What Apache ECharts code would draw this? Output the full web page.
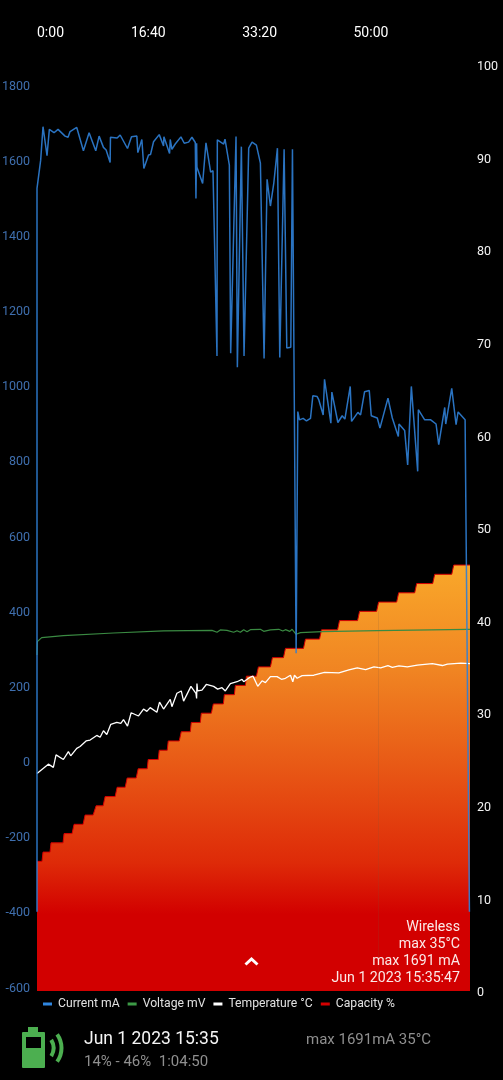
<!DOCTYPE html>
<html>
<head>
<meta charset="utf-8">
<title>Battery log</title>
<style>
	html, body { margin: 0; padding: 0; background: #000; }
	#chart { width: 503px; height: 1080px; }
</style>
</head>
<body>
<div id="chart"></div>
<script src="https://cdn.jsdelivr.net/npm/echarts@6/dist/echarts.min.js"></script>
<script>
// seconds since start, mA
var currentTime = [0,0,33,54,90,111,153,189,252,279,297,357,417,468,528,558,597,621,657,660,720,747,813,849,897,906,942,960,1002,1020,1047,1098,1137,1140,1191,1197,1212,1242,1293,1323,1362,1392,1422,1428,1434,1437,1488,1518,1560,1581,1617,1620,1677,1689,1728,1740,1788,1800,1836,1860,1902,1932,1971,2007,2040,2067,2097,2127,2160,2181,2220,2244,2280,2295,2328,2343,2358,2391,2421,2457,2478,2517,2532,2571,2583,2640,2649,2703,2742,2766,2814,2826,2883,2907,2943,2985,3003,3057,3081,3153,3192,3246,3252,3303,3330,3363,3420,3426,3483,3537,3585,3609,3663,3672,3726,3765,3783,3846,3885];
var currentValue = [-400,1525,1600,1689,1612,1682,1673,1682,1664,1661,1676,1687,1625,1673,1625,1664,1634,1627,1594,1661,1659,1667,1631,1662,1664,1620,1655,1578,1614,1615,1649,1668,1638,1662,1618,1655,1629,1643,1662,1645,1648,1661,1647,1498,1645,1581,1538,1646,1568,1572,1079,1654,1643,1656,1587,1086,1663,1049,1636,1079,1632,1648,1640,1592,1072,1549,1478,1538,1632,1075,1629,1100,1102,1629,288,931,909,913,906,913,973,971,962,922,1017,900,983,902,920,911,998,905,929,922,984,987,920,914,887,967,914,865,898,881,789,998,772,936,909,909,898,843,942,898,993,896,930,909,-400];

// seconds since start, mV
var voltageTime = [0,3,42,237,687,1137,1572,1617,1647,1707,1767,1797,1827,1857,1887,1917,2007,2037,2097,2172,2208,2232,2271,2292,2328,2367,2562,3057,3867,3890];
var voltageValue = [3629,3773,3816,3837,3866,3888,3895,3874,3899,3895,3874,3891,3874,3902,3880,3902,3906,3884,3899,3906,3888,3902,3884,3906,3852,3870,3880,3891,3906,3906];

// seconds since start, deg C
var tempTime = [0,102,147,171,237,282,303,357,387,441,477,537,567,597,627,663,717,753,777,813,846,912,957,987,1017,1077,1101,1137,1197,1212,1257,1296,1317,1383,1428,1434,1437,1443,1482,1521,1587,1623,1662,1692,1737,1797,1842,1857,1917,1941,1983,2022,2052,2097,2157,2196,2232,2277,2298,2313,2337,2382,2487,2583,2712,2802,2877,2952,3027,3087,3153,3192,3252,3327,3417,3552,3642,3687,3807,3890];
var tempValue = [23.5,24.5,24.15,25.5,25.0,25.85,25.4,26.2,26.4,27.0,27.1,27.6,27.4,28.1,27.7,28.8,29.0,28.9,29.3,28.6,30.05,29.7,30.45,30.2,30.6,30.1,31.2,30.45,31.5,30.7,32.15,32.4,31.3,32.9,32.15,31.6,33.2,32.4,32.5,33.1,32.9,32.6,32.75,32.4,33.2,33.4,33.66,33.4,33.9,34.0,32.9,33.5,33.3,33.95,33.95,33.66,33.77,34.1,33.4,34.1,33.77,34.05,34.1,34.4,34.35,34.67,34.9,34.7,35.0,34.9,35.13,34.96,35.1,35.0,35.2,35.35,35.15,35.3,35.4,35.35];

// seconds since start, percent (start and end of each step)
var capacityTime = [0,45,54,117,126,234,243,315,333,414,432,504,531,594,612,702,720,792,810,891,909,990,999,1089,1098,1170,1179,1278,1296,1377,1386,1467,1476,1566,1584,1674,1683,1773,1782,1872,1881,1971,1989,2097,2115,2214,2232,2394,2412,2538,2556,2700,2718,2880,2898,3051,3069,3231,3249,3393,3411,3555,3573,3726,3744,3890];
var capacityValue = [14,14,15,15,16,16,17,17,18,18,19,19,20,20,21,21,22,22,23,23,24,24,25,25,26,26,27,27,28,28,29,29,30,30,31,31,32,32,33,33,34,34,35,35,36,36,37,37,38,38,39,39,40,40,41,41,42,42,43,43,44,44,45,45,46,46];

var rightTicks = 10;
var leftTicks = 200;
var timeTicks = 1000;
var capacityMarkTime = 3069;
var capacityMarkTop = 41;

function pairs(xs, ys) {
	return xs.map(function (x, i) { return [x, ys[i]]; });
}

function mmss(v) {
	var s = v % 60;
	return Math.floor(v / 60) + ':' + (s < 10 ? '0' + s : s);
}

var font = 'Roboto';

function label(text, x, y, size, color, align) {
	return {
		type: 'text',
		x: x,
		y: y,
		z: 100,
		silent: true,
		style: {
			text: text,
			fill: color,
			font: size + 'px ' + font,
			textAlign: align || 'left',
			textVerticalAlign: 'middle'
		}
	};
}

var myChart = echarts.init(document.getElementById('chart'), null, { renderer: 'canvas' });

var option = {
	backgroundColor: '#000',
	animation: false,
	textStyle: { fontFamily: font },
	grid: [
		{ left: 37, right: 33, top: 65, height: 926, outerBoundsMode: 'none' },
		{ left: 37, right: 33, top: 85, height: 902, outerBoundsMode: 'none' }
	],
	legend: {
		left: 38,
		top: 993,
		itemWidth: 9,
		itemHeight: 3,
		itemGap: 8,
		icon: 'rect',
		textStyle: { color: '#e0e0e0', fontSize: 12.2, fontFamily: font, padding: [0, 0, 0, 1] },
		data: ['Current mA', 'Voltage mV', 'Temperature °C', 'Capacity %']
	},
	xAxis: [
		{
			type: 'value',
			gridIndex: 0,
			position: 'top',
			min: 0,
			max: 3890,
			interval: timeTicks,
			axisLine: { show: false },
			axisTick: { show: false },
			splitLine: { show: false },
			axisLabel: {
				color: '#fff',
				fontSize: 14,
				margin: 25,
				showMaxLabel: false,
				alignMinLabel: 'left',
				formatter: mmss
			}
		},
		{ type: 'value', gridIndex: 1, min: 0, max: 3890, show: false }
	],
	yAxis: [
		{
			type: 'value',
			gridIndex: 0,
			position: 'right',
			min: 0,
			max: 100,
			interval: rightTicks,
			axisLine: { show: false },
			axisTick: { show: false },
			splitLine: { show: false },
			axisLabel: {
				margin: 7,
				align: 'left',
				formatter: function (v) { return '{v|' + v + '}'; },
				rich: { v: { color: '#f2f2f2', fontSize: 12.5, fontFamily: font, padding: [4, 0, 0, 0] } }
			}
		},
		{
			type: 'value',
			gridIndex: 1,
			position: 'left',
			min: -600,
			max: 1800,
			interval: leftTicks,
			axisLine: { show: false },
			axisTick: { show: false },
			splitLine: { show: false },
			axisLabel: {
				margin: 7,
				align: 'right',
				formatter: function (v) { return '{v|' + v + '}'; },
				rich: { v: { color: '#3f6fae', fontSize: 12.5, fontFamily: font, padding: [3, 0, 0, 0] } }
			}
		},
		{ type: 'value', gridIndex: 0, min: 0, max: 10000, show: false }
	],
	series: [
		{
			name: 'Capacity %',
			type: 'line',
			xAxisIndex: 0,
			yAxisIndex: 0,
			z: 2,
			symbol: 'none',
			data: pairs(capacityTime, capacityValue),
			itemStyle: { color: '#d50000' },
			lineStyle: { color: '#d50000', width: 1 },
			areaStyle: {
				opacity: 1,
				color: {
					type: 'linear', x: 0, y: 0, x2: 0, y2: 1,
					colorStops: [
						{ offset: 0, color: '#f9a82a' },
						{ offset: 0.25, color: '#f08422' },
						{ offset: 0.5, color: '#e75314' },
						{ offset: 0.7, color: '#de2a08' },
						{ offset: 0.82, color: '#d20000' },
						{ offset: 1, color: '#d20000' }
					]
				}
			},
			markLine: {
				silent: true,
				symbol: 'none',
				label: { show: false },
				lineStyle: { color: 'rgba(120,90,60,0.16)', width: 1, type: 'solid' },
				data: [[{ coord: [capacityMarkTime, 0] }, { coord: [capacityMarkTime, capacityMarkTop] }]]
			}
		},
		{
			name: 'Current mA',
			type: 'line',
			xAxisIndex: 1,
			yAxisIndex: 1,
			z: 5,
			symbol: 'none',
			data: pairs(currentTime, currentValue),
			itemStyle: { color: '#2f86e0' },
			lineStyle: { color: '#2f7fd6', width: 1.5, opacity: 0.9 }
		},
		{
			name: 'Voltage mV',
			type: 'line',
			xAxisIndex: 0,
			yAxisIndex: 2,
			z: 3,
			symbol: 'none',
			data: pairs(voltageTime, voltageValue),
			itemStyle: { color: '#3c9a46' },
			lineStyle: { color: '#3a8a42', width: 1.2 }
		},
		{
			name: 'Temperature °C',
			type: 'line',
			xAxisIndex: 0,
			yAxisIndex: 0,
			z: 4,
			symbol: 'none',
			data: pairs(tempTime, tempValue),
			itemStyle: { color: '#fff' },
			lineStyle: { color: '#fff', width: 1.3 }
		}
	],
	graphic: [
		label('Wireless', 460, 927, 14.2, '#fbe9e7', 'right'),
		label('max 35°C', 460, 944, 14.2, '#fbe9e7', 'right'),
		label('max 1691 mA', 460, 961, 14.2, '#fbe9e7', 'right'),
		label('Jun 1 2023 15:35:47', 460, 978, 14.2, '#fbe9e7', 'right'),
		label('Jun 1 2023 15:35', 84, 1039.5, 17.5, '#f5f5f5'),
		label('14% - 46%  1:04:50', 84, 1062, 15, '#8f8f8f'),
		label('max 1691mA 35°C', 306, 1040, 15, '#8f8f8f'),
		{
			type: 'polyline',
			z: 100,
			silent: true,
			shape: { points: [[245.5, 964.5], [251.5, 959], [257.5, 964.5]] },
			style: { stroke: '#fff', lineWidth: 3, fill: null }
		},
		{ type: 'rect', z: 100, silent: true, shape: { x: 22, y: 1032, width: 23, height: 36, r: 1 }, style: { fill: '#4caf50' } },
		{ type: 'rect', z: 100, silent: true, shape: { x: 28, y: 1027, width: 10, height: 5 }, style: { fill: '#4caf50' } },
		{ type: 'rect', z: 101, silent: true, shape: { x: 26, y: 1037, width: 15, height: 11 }, style: { fill: '#000' } },
		{
			type: 'arc', z: 100, silent: true,
			shape: { cx: 38, cy: 1048, r: 15.5, startAngle: -0.55, endAngle: 0.55 },
			style: { stroke: '#4caf50', lineWidth: 4, fill: null }
		},
		{
			type: 'arc', z: 100, silent: true,
			shape: { cx: 38, cy: 1048, r: 23.5, startAngle: -0.62, endAngle: 0.62 },
			style: { stroke: '#4caf50', lineWidth: 4, fill: null }
		}
	]
};

myChart.setOption(option);
</script>
</body>
</html>
